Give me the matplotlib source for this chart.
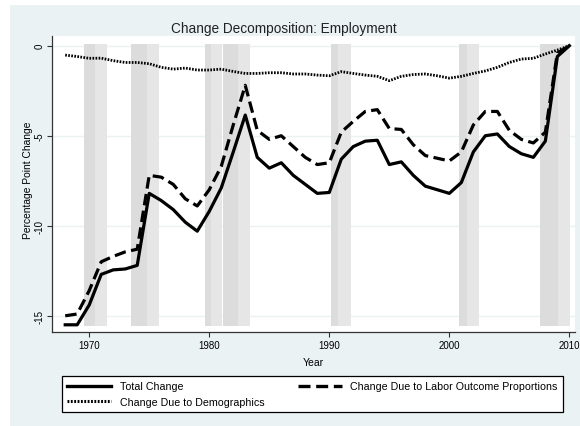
import numpy as np
import matplotlib
matplotlib.use("Agg")
import matplotlib.pyplot as plt
from matplotlib.lines import Line2D
from matplotlib.patches import Rectangle

plt.rcParams['font.family'] = ['Liberation Sans', 'DejaVu Sans']

# --- data ---
years = np.arange(1968, 2011)
total_change = [-15.5, -15.5, -14.4, -12.7, -12.45, -12.4, -12.2,
                -8.2, -8.6, -9.1, -9.8, -10.3,
                -9.2, -7.9, -5.9, -3.85, -6.2,
                -6.8, -6.5, -7.2, -7.7, -8.2,
                -8.15, -6.3, -5.6, -5.3, -5.25,
                -6.6, -6.45, -7.2, -7.8, -8.0,
                -8.2, -7.6, -5.9, -5.0, -4.9,
                -5.6, -6.0, -6.2, -5.3, -0.6,
                0.0]
labor_change = [-15.0, -14.9, -13.6, -12.0, -11.7, -11.45, -11.3,
                -7.2, -7.3, -7.7, -8.5, -8.9,
                -8.0, -6.7, -4.4, -2.2, -4.7,
                -5.2, -5.0, -5.6, -6.2, -6.6,
                -6.5, -4.8, -4.2, -3.65, -3.55,
                -4.6, -4.65, -5.5, -6.1, -6.25,
                -6.4, -5.9, -4.4, -3.65, -3.65,
                -4.7, -5.2, -5.4, -4.8, -0.4,
                0.0]
demog_change = [-0.52, -0.6, -0.7, -0.69, -0.83, -0.93, -0.93, -1.0, -1.2, -1.3,
                -1.24, -1.35, -1.35, -1.3, -1.43, -1.54, -1.54, -1.5, -1.5, -1.57,
                -1.57, -1.63, -1.67, -1.44, -1.54, -1.63, -1.7, -1.94, -1.7, -1.6,
                -1.57, -1.67, -1.8, -1.7, -1.54, -1.4, -1.2, -0.93, -0.74, -0.7,
                -0.46, -0.24, 0.0]

# recession shading: (start, split, end)
rec_bands = [(1969.55, 1970.5, 1971.45),
             (1973.5, 1974.83, 1975.8),
             (1979.64, 1980.14, 1981.03),
             (1981.14, 1982.42, 1983.4),
             (1990.14, 1990.75, 1991.78),
             (2000.8, 2001.45, 2002.45),
             (2007.56, 2009.03, 2010.06)]
band_lo, band_hi = -15.55, 0.1

y_ticks = [0, -5, -10, -15]
x_ticks = [1970, 1980, 1990, 2000, 2010]

bg = '#eaf2f3'
dark_band = '#dcdcdc'
light_band = '#e6e6e6'

fig = plt.figure(figsize=(5.8, 4.27), dpi=100)
fig.patch.set_facecolor('white')
# graph region (light bluish), thin white border on top/left
fig.patches.append(Rectangle((10 / 580, 0), 1, 1 - 6 / 427,
                             transform=fig.transFigure, facecolor=bg,
                             edgecolor='none', zorder=-10))

ax = fig.add_axes([52 / 580, 1 - 333 / 427, 523 / 580, 296 / 427])
ax.set_facecolor('white')

for y in y_ticks:
    ax.axhline(y, color=bg, lw=1.0, zorder=0)

for a, m, b in rec_bands:
    ax.fill_between([a, m], band_lo, band_hi, color=dark_band, lw=0, zorder=1)
    ax.fill_between([m, b], band_lo, band_hi, color=light_band, lw=0, zorder=1)

ax.plot(years, total_change, color='black', lw=2.3, zorder=3)
ax.plot(years, labor_change, color='black', lw=2.3, dashes=(3.6, 1.7), zorder=3)
ax.plot(years, demog_change, color='black', lw=2.0, dashes=(0.6, 0.5), zorder=3)

ax.set_xlim(1966.9, 2010.47)
ax.set_ylim(-15.9, 0.54)
ax.set_xticks(x_ticks)
ax.set_yticks(y_ticks)
ax.set_yticklabels([str(v) for v in y_ticks], rotation=90, va='center')
ax.tick_params(axis='both', labelsize=7, length=3.6, width=0.8, color='#333333')
ax.tick_params(axis='y', pad=1.5)
ax.tick_params(axis='x', pad=2)

for s in ['top', 'right']:
    ax.spines[s].set_visible(False)
for s in ['left', 'bottom']:
    ax.spines[s].set_color('#333333')
    ax.spines[s].set_linewidth(0.9)

ax.set_xlabel('Year', fontsize=7.5)
ax.xaxis.set_label_coords(0.5, (333 - 358) / 296)
ax.set_ylabel('Percentage Point Change', fontsize=7.4)
ax.yaxis.set_label_coords((33 - 52) / 523, (333 - 180) / 296)

fig.text(284 / 580, 1 - 29 / 427, 'Change Decomposition: Employment',
         ha='center', va='center', fontsize=9.8, color='#222222')

handles = [Line2D([], [], color='black', lw=2.4),
           Line2D([], [], color='black', lw=2.4, dashes=(3.6, 1.7)),
           Line2D([], [], color='black', lw=2.2, dashes=(0.6, 0.5))]
labels = ['Total Change', 'Change Due to Labor Outcome Proportions',
          'Change Due to Demographics']
# row 1 = Total, Labor; row 2 = Demographics
leg = fig.legend([handles[0], handles[2], handles[1]],
                 [labels[0], labels[2], labels[1]],
                 ncol=2, loc='lower left', mode='expand',
                 bbox_to_anchor=(62 / 580, 1 - 413 / 427, 501 / 580, 40 / 427),
                 fontsize=7.7, frameon=True, fancybox=False, borderpad=0.5,
                 handlelength=4.1, handletextpad=0.8, labelspacing=0.5,
                 borderaxespad=0)
leg.get_frame().set_edgecolor('black')
leg.get_frame().set_linewidth(0.9)
leg.get_frame().set_facecolor('white')
leg.get_frame().set_alpha(1)

fig.savefig('out.png', dpi=100)
